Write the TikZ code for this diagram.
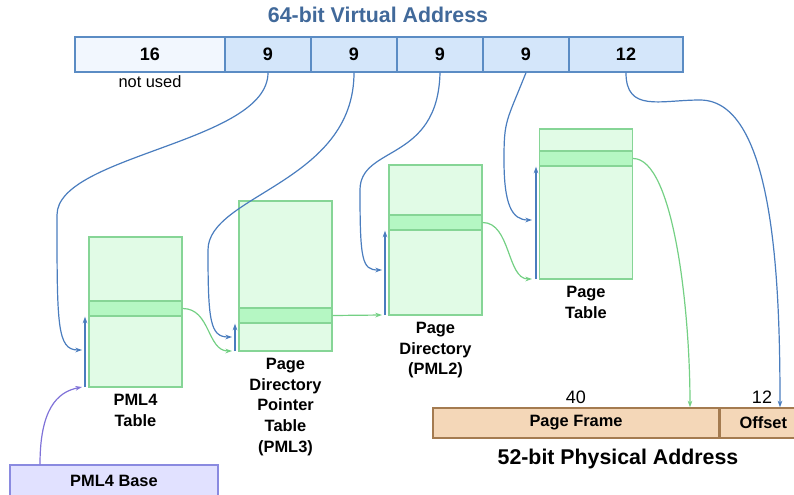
\documentclass[tikz,border=0pt]{standalone}
\usepackage{fontspec}
\setmainfont{Liberation Sans}
\usetikzlibrary{arrows.meta,positioning}

\definecolor{fieldfill}{HTML}{D4E6FA}
\definecolor{unusedfill}{HTML}{F2F7FE}
\definecolor{fieldborder}{HTML}{5B8CC4}
\definecolor{titleblue}{HTML}{41699A}
\definecolor{tablefill}{HTML}{E1FBE6}
\definecolor{tableborder}{HTML}{86D596}
\definecolor{entryfill}{HTML}{B5F7C3}
\definecolor{ptrblue}{HTML}{4A7DBE}
\definecolor{ptrgreen}{HTML}{74D084}
\definecolor{framefill}{HTML}{F4D7B8}
\definecolor{frameborder}{HTML}{A47B50}
\definecolor{basefill}{HTML}{E1E1FF}
\definecolor{baseborder}{HTML}{8A8AE0}
\definecolor{baseptr}{HTML}{7F72D8}

\begin{document}
\begin{tikzpicture}[x=0.75pt,y=-0.75pt,
    field/.style={draw=fieldborder, fill=fieldfill, line width=1pt, minimum height=26.25pt, inner sep=0pt, font=\fontsize{13.5}{15}\selectfont\bfseries},
    table/.style={draw=tableborder, fill=tablefill, line width=1pt, minimum width=69.75pt, minimum height=112.5pt, inner sep=0pt},
    entry/.style={draw=tableborder, fill=entryfill, line width=1pt, minimum width=69.75pt, minimum height=11.25pt, inner sep=0pt},
    caption/.style={align=center, font=\fontsize{12.3}{15.4}\selectfont\bfseries, inner sep=1pt},
    physfield/.style={draw=frameborder, fill=framefill, line width=1pt, minimum height=22.5pt, inner sep=0pt, font=\fontsize{12.3}{14}\selectfont\bfseries},
    vptr/.style={draw=ptrblue, line width=0.9pt, -{Stealth[length=5pt,width=3.5pt]}},
    gptr/.style={draw=ptrgreen, line width=0.9pt, -{Stealth[length=5pt,width=3.5pt]}}]
    \useasboundingbox (0,0) rectangle (794,494);

    % virtual address
    \node[text=titleblue, font=\fontsize{16}{19}\selectfont\bfseries] (vtitle) at (378,15) {64-bit Virtual Address};
    \node[field, fill=unusedfill, minimum width=112.5pt] (f16) at (150,54.5) {16};
    \node[field, minimum width=64.5pt] (f9a) at (268,54.5) {9};
    \node[field, minimum width=64.5pt] (f9b) at (354,54.5) {9};
    \node[field, minimum width=64.5pt] (f9c) at (440,54.5) {9};
    \node[field, minimum width=64.5pt] (f9d) at (526,54.5) {9};
    \node[field, minimum width=85.5pt] (f12) at (626,54.5) {12};
    \node[font=\fontsize{12.3}{14}\selectfont] (unused) at (150,82) {not used};

    % tables
    \node[table] (t1) at (135.5,312) {};
    \node[table] (t2) at (285.5,276) {};
    \node[table] (t3) at (435.5,240) {};
    \node[table] (t4) at (586,204) {};
    \node[entry] (r1) at (135.5,308.5) {};
    \node[entry] (r2) at (285.5,315.5) {};
    \node[entry] (r3) at (435.5,222.5) {};
    \node[entry] (r4) at (586,158.5) {};
    \node[caption, below=4pt of t1] (c1) {PML4\\Table};
    \node[caption, below=4pt of t2] (c2) {Page\\Directory\\Pointer\\Table\\(PML3)};
    \node[caption, below=4pt of t3] (c3) {Page\\Directory\\(PML2)};
    \node[caption, below=4pt of t4] (c4) {Page\\Table};

    % physical address
    \node[physfield, minimum width=214.5pt] (frame) at (576,423) {Page Frame};
    \node[physfield, minimum width=64.5pt, anchor=west] (offset) at (frame.east) {Offset};
    \node[font=\fontsize{13.5}{16}\selectfont] (n40) at (576,397) {40};
    \node[font=\fontsize{13.5}{16}\selectfont] (n12) at (762,397) {12};
    \node[font=\fontsize{16}{19}\selectfont\bfseries] (ptitle) at (618,459) {52-bit Physical Address};

    % base register
    \node[draw=baseborder, fill=basefill, line width=1pt, minimum width=156pt, minimum height=24pt, inner sep=0pt,
          font=\fontsize{12.3}{14}\selectfont\bfseries] (base) at (114,481) {PML4 Base};

    % index arrows inside the tables
    \coordinate (p1) at (85,387);
    \coordinate (p2) at (235,351);
    \coordinate (p3) at (385,315);
    \coordinate (p4) at (536,279);
    \draw[vptr] (p1) -- (p1 |- r1.south);
    \draw[vptr] (p2) -- (p2 |- r2.south);
    \draw[vptr] (p3) -- (p3 |- r3.south);
    \draw[vptr] (p4) -- (p4 |- r4.south);

    % index fields into the tables
    \coordinate (in1) at (82,350);
    \coordinate (in2) at (232,337);
    \coordinate (in3) at (382,270);
    \coordinate (in4) at (532,220);
    \draw[vptr] (f9a.south) .. controls +(0,70) and +(0,-60) .. (57,215) .. controls +(0,110) and +(-25,0) .. (in1);
    \draw[vptr] (f9b.south) .. controls +(0,110) and +(0,-55) .. (208,250) .. controls +(0,70) and +(-22,0) .. (in2);
    \draw[vptr] (f9c.south) .. controls +(-2,90) and +(0,-45) .. (360,190) .. controls +(0,70) and +(-20,0) .. (in3);
    \draw[vptr] (f9d.south) .. controls +(-20,50) and +(0,-40) .. (504,160) .. controls +(0,45) and +(-20,0) .. (in4);
    \draw[vptr] (f12.south) .. controls +(0,40) and +(-40,0) .. (700,100) .. controls +(75,0) and +(0,-120) .. (offset.north -| 780,0);

    % table entries to next level
    \draw[gptr] (r1.east) .. controls +(28,0) and +(-25,0) .. (in2 |- p2);
    \draw[gptr] (r2.east) -- (in3 |- p3);
    \draw[gptr] (r3.east) .. controls +(28,0) and +(-25,0) .. (in4 |- p4);
    \draw[gptr] (r4.east) .. controls +(40,0) and +(0,-100) .. (frame.north -| 690,0);

    % base pointer
    \draw[draw=baseptr, line width=0.9pt, -{Stealth[length=5pt,width=3.5pt]}] (base.north -| 40,0) .. controls +(0,-55) and +(-25,5) .. (82,387);
\end{tikzpicture}
\end{document}
